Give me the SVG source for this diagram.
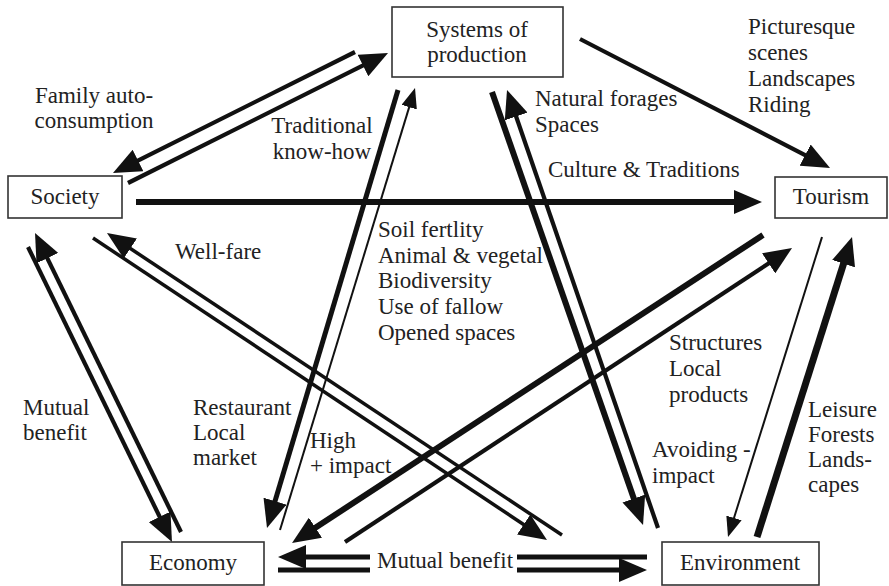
<svg xmlns="http://www.w3.org/2000/svg" width="889" height="586" viewBox="0 0 889 586">
<style>
  .box{fill:#fff;stroke:#333;stroke-width:1.6}
  .t{font-family:"Liberation Serif","Times New Roman",Times,serif;font-size:23px;fill:#222}
  .m{text-anchor:middle}
  .c{fill:none;stroke:#111;stroke-linecap:butt}
  .w2{stroke-width:2}
  .w3{stroke-width:3.5}
  .w4{stroke-width:4.2}
  .w5{stroke-width:5}
  .w6{stroke-width:6}
  .w7{stroke-width:7}
  .big{marker-end:url(#big)}
  .sm{marker-end:url(#small)}
</style>
<defs>
  <marker id="big" markerUnits="userSpaceOnUse" markerWidth="28" markerHeight="24" refX="13" refY="12" orient="auto">
    <path d="M0,0 L28,12 L0,24 z" fill="#111"/>
  </marker>
  <marker id="small" markerUnits="userSpaceOnUse" markerWidth="20" markerHeight="16" refX="10" refY="8" orient="auto">
    <path d="M0,0 L20,8 L0,16 z" fill="#111"/>
  </marker>
</defs>
<rect width="889" height="586" fill="#fff"/>
<g id="connectors">
  <path class="c w4 big" d="M355,52 L126.4,166.3"/>
  <path class="c w4 big" d="M128,183 L374.6,59.7"/>
  <path class="c w6 big" d="M136,202 L747,202"/>
  <path class="c w4 big" d="M580,39 L816.7,161.1"/>
  <path class="c w6 big" d="M492,92 L638.1,510.8"/>
  <path class="c w4 big" d="M658,528 L511.9,104.2"/>
  <path class="c w5 big" d="M398,90 L271.3,513.6"/>
  <path class="c w2 sm" d="M280,530 L412.1,97.6"/>
  <path class="c w4 big" d="M28,247 L165.4,528.5"/>
  <path class="c w4 big" d="M181,532 L41.6,246.5"/>
  <path class="c w3 big" d="M93,238 L534.5,531.7"/>
  <path class="c w3 big" d="M562,535 L119.5,241.3"/>
  <path class="c w6 big" d="M763,235 L304.6,534.8"/>
  <path class="c w4 big" d="M345,542 L779.5,256.2"/>
  <path class="c w2 sm" d="M822,237 L731,527.5"/>
  <path class="c w7 big" d="M757,537 L847.5,251.3"/>
  <path class="c w5 big" d="M647,557 H517 M370,557 H293"/>
  <path class="c w5 big" d="M278,570 H370 M517,570 H632"/>
</g>
<g id="systems">
  <rect class="box" x="392" y="7" width="171" height="70"/>
  <text class="t m" x="477" y="37">Systems of</text>
  <text class="t m" x="477" y="62">production</text>
</g>
<g id="society">
  <rect class="box" x="8" y="176" width="114" height="42"/>
  <text class="t m" x="65" y="204">Society</text>
</g>
<g id="tourism">
  <rect class="box" x="775" y="177" width="112" height="41"/>
  <text class="t m" x="831" y="204">Tourism</text>
</g>
<g id="economy">
  <rect class="box" x="122" y="542" width="142" height="43"/>
  <text class="t m" x="193" y="570">Economy</text>
</g>
<g id="environment">
  <rect class="box" x="662" y="542" width="157" height="43"/>
  <text class="t m" x="740" y="570">Environment</text>
</g>
<g id="labels">
  <text class="t m" x="94" y="103">Family auto-</text>
  <text class="t m" x="94" y="128">consumption</text>
  <text class="t m" x="322" y="133">Traditional</text>
  <text class="t m" x="322" y="159">know-how</text>
  <text class="t" x="535" y="106">Natural forages</text>
  <text class="t" x="535" y="132">Spaces</text>
  <text class="t" x="748" y="34">Picturesque</text>
  <text class="t" x="748" y="60">scenes</text>
  <text class="t" x="748" y="86">Landscapes</text>
  <text class="t" x="748" y="112">Riding</text>
  <text class="t" x="548" y="177">Culture &amp; Traditions</text>
  <text class="t" x="175" y="259">Well-fare</text>
  <text class="t" x="378" y="237">Soil fertlity</text>
  <text class="t" x="378" y="263">Animal &amp; vegetal</text>
  <text class="t" x="378" y="288">Biodiversity</text>
  <text class="t" x="378" y="314">Use of fallow</text>
  <text class="t" x="378" y="340">Opened spaces</text>
  <text class="t" x="669" y="350">Structures</text>
  <text class="t" x="669" y="376">Local</text>
  <text class="t" x="669" y="402">products</text>
  <text class="t" x="808" y="417">Leisure</text>
  <text class="t" x="808" y="442">Forests</text>
  <text class="t" x="808" y="467">Lands-</text>
  <text class="t" x="808" y="492">capes</text>
  <text class="t" x="652" y="457">Avoiding -</text>
  <text class="t" x="652" y="483">impact</text>
  <text class="t" x="23" y="415">Mutual</text>
  <text class="t" x="23" y="440">benefit</text>
  <text class="t" x="193" y="415">Restaurant</text>
  <text class="t" x="193" y="440">Local</text>
  <text class="t" x="193" y="465">market</text>
  <text class="t" x="310" y="448">High</text>
  <text class="t" x="310" y="473">+ impact</text>
  <text class="t" x="377" y="568">Mutual benefit</text>
</g>
</svg>
